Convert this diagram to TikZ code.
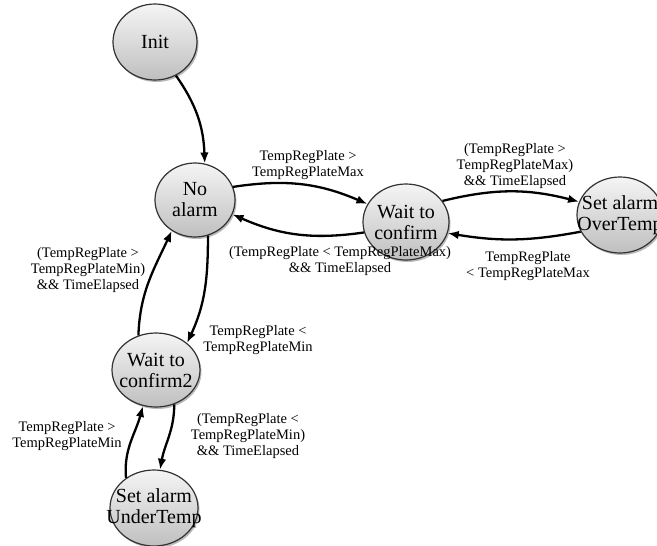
\documentclass[tikz,border=0pt]{standalone}
\usepackage{fontspec}
\setmainfont{Liberation Serif}
\usetikzlibrary{shapes.geometric,shadows,arrows.meta}
\begin{document}
\begin{tikzpicture}[x=1pt,y=1pt,
  state/.style={ellipse, draw=black!80, line width=1.2pt, inner sep=0pt,
    top color=gray!8, bottom color=gray!50,
    drop shadow={shadow xshift=1.5pt, shadow yshift=-2pt, fill=black!45, opacity=0.6}},
  stext/.style={align=center, font=\fontsize{20}{21}\selectfont},
  lbl/.style={align=center, font=\fontsize{14.5}{16}\selectfont},
  edge/.style={line width=2.3pt, -{Latex[length=11pt,width=8.5pt]}}]
\clip (0,0) rectangle (657,-546);
\fill[white] (0,0) rectangle (657,-546);
% states
\node[state, minimum width=84pt, minimum height=76pt] (init) at (155,-42) {};
\node[stext] at (init) {Init};
\node[state, minimum width=80pt, minimum height=74pt] (noalarm) at (195,-200) {};
\node[stext] at (noalarm) {No\\alarm};
\node[state, minimum width=86pt, minimum height=76pt] (wait) at (406,-222) {};
\node[stext] at (wait) {Wait to\\confirm};
\node[state, minimum width=86pt, minimum height=76pt] (over) at (620,-215) {};
\node[stext] at (over) {Set alarm\\OverTemp};
\node[state, minimum width=88pt, minimum height=74pt] (wait2) at (156,-370) {};
\node[stext] at (wait2) {Wait to\\confirm2};
\node[state, minimum width=88pt, minimum height=76pt] (under) at (154,-508) {};
\node[stext] at (under) {Set alarm\\UnderTemp};
% edges
\draw[edge] (init.-58) to[out=-55,in=92] (noalarm.75);
\draw[edge] (noalarm.19) to[bend left=16] (wait.155);
\draw[edge] (wait.194) to[bend left=16] (noalarm.-21);
\draw[edge] (wait.30) to[bend left=14] (over.162);
\draw[edge] (over.203) to[bend left=10] (wait.-15);
\draw[edge] (noalarm.-70) to[out=-90,in=65] (wait2.41);
\draw[edge] (wait2.117) to[out=88,in=-115] (noalarm.-127);
\draw[edge] (wait2.-62) to[out=-90,in=80] (under.81);
\draw[edge] (under.133) to[out=95,in=-105] (wait2.-110);
% labels
\node[lbl] (l1) at (308,-165) {TempRegPlate >\\TempRegPlateMax};
\node[lbl] (l2) at (340,-261) {(TempRegPlate < TempRegPlateMax)\\\&\& TimeElapsed};
\node[lbl] (l3) at (515,-166) {(TempRegPlate >\\TempRegPlateMax)\\\&\& TimeElapsed};
\node[lbl] (l4) at (528,-266) {TempRegPlate\\< TempRegPlateMax};
\node[lbl] (l5) at (88,-270) {(TempRegPlate >\\TempRegPlateMin)\\\&\& TimeElapsed};
\node[lbl] (l6) at (258,-340) {TempRegPlate <\\TempRegPlateMin};
\node[lbl] (l7) at (248,-436) {(TempRegPlate <\\TempRegPlateMin)\\\&\& TimeElapsed};
\node[lbl] (l8) at (67,-436) {TempRegPlate >\\TempRegPlateMin};
\end{tikzpicture}
\end{document}
